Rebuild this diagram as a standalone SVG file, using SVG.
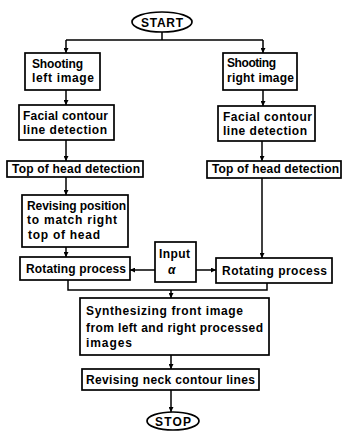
<svg xmlns="http://www.w3.org/2000/svg" width="345" height="431" viewBox="0 0 345 431">
<defs>
<marker id="ah" viewBox="0 0 8 8" refX="8" refY="4" markerWidth="5" markerHeight="5" markerUnits="userSpaceOnUse" orient="auto">
<path d="M0,0 L8,4 L0,8 Z" fill="#000"/>
</marker>
<style>
.b{fill:#fff;stroke:#000;stroke-width:1.7}
.t{font-family:"Liberation Sans",Arial,sans-serif;font-weight:bold;font-size:12px;fill:#000}
.c{fill:none;stroke:#000;stroke-width:1.5}
.a{fill:none;stroke:#000;stroke-width:1.5;marker-end:url(#ah)}
</style>
</defs>
<rect width="345" height="431" fill="#fff"/>
<g id="connectors">
<path class="c" d="M162,32 V40 M66,40 H263"/>
<path class="a" d="M66,40 V53"/>
<path class="a" d="M263,40 V53"/>
<path class="a" d="M66,90 V105"/>
<path class="a" d="M263,90 V106"/>
<path class="a" d="M66,140 V161"/>
<path class="a" d="M262,141 V161"/>
<path class="a" d="M66,177 V195"/>
<path class="a" d="M66,247 V257"/>
<path class="a" d="M262,178 V258"/>
<path class="a" d="M155,270 H130"/>
<path class="a" d="M196,270 H216"/>
<path class="c" d="M68,280 V290 H267 V283"/>
<path class="a" d="M171,290 V298"/>
<path class="a" d="M171,355 V369"/>
<path class="a" d="M171,390 V412"/>
</g>
<g id="start">
<ellipse class="b" cx="162" cy="22" rx="30" ry="10"/>
<text class="t" x="141" y="27" textLength="42" lengthAdjust="spacing">START</text>
</g>
<g id="shoot-left">
<rect class="b" x="25" y="53" width="75" height="37"/>
<text class="t" x="32" y="68" textLength="51" lengthAdjust="spacing">Shooting</text>
<text class="t" x="32" y="82" textLength="62" lengthAdjust="spacing">left image</text>
</g>
<g id="shoot-right">
<rect class="b" x="223" y="53" width="74" height="37"/>
<text class="t" x="227" y="67" textLength="49" lengthAdjust="spacing">Shooting</text>
<text class="t" x="227" y="82" textLength="67" lengthAdjust="spacing">right image</text>
</g>
<g id="facial-left">
<rect class="b" x="19" y="105" width="95" height="35"/>
<text class="t" x="23" y="120" textLength="85" lengthAdjust="spacing">Facial contour</text>
<text class="t" x="23" y="134" textLength="84" lengthAdjust="spacing">line detection</text>
</g>
<g id="facial-right">
<rect class="b" x="218" y="106" width="97" height="35"/>
<text class="t" x="223" y="121" textLength="89" lengthAdjust="spacing">Facial contour</text>
<text class="t" x="223" y="135" textLength="84" lengthAdjust="spacing">line detection</text>
</g>
<g id="tophead-left">
<rect class="b" x="7" y="161" width="136" height="16"/>
<text class="t" x="12" y="173" textLength="128" lengthAdjust="spacing">Top of head detection</text>
</g>
<g id="tophead-right">
<rect class="b" x="207" y="161" width="134" height="17"/>
<text class="t" x="212" y="173" textLength="127" lengthAdjust="spacing">Top of head detection</text>
</g>
<g id="revising">
<rect class="b" x="22" y="195" width="106" height="52"/>
<text class="t" x="27" y="210" textLength="99" lengthAdjust="spacing">Revising position</text>
<text class="t" x="27" y="224" textLength="90" lengthAdjust="spacing">to match right</text>
<text class="t" x="28" y="239" textLength="72" lengthAdjust="spacing">top of head</text>
</g>
<g id="rotating-left">
<rect class="b" x="20" y="257" width="110" height="23"/>
<text class="t" x="26" y="273" textLength="100" lengthAdjust="spacing">Rotating process</text>
</g>
<g id="input">
<rect class="b" x="155" y="242" width="41" height="40"/>
<text class="t" x="159" y="258" textLength="31" lengthAdjust="spacing">Input</text>
<text class="t" x="168" y="274" font-family="'Liberation Serif',serif" font-style="italic" font-size="14">α</text>
</g>
<g id="rotating-right">
<rect class="b" x="216" y="258" width="116" height="25"/>
<text class="t" x="222" y="275" textLength="105" lengthAdjust="spacing">Rotating process</text>
</g>
<g id="synth">
<rect class="b" x="80" y="298" width="189" height="57"/>
<text class="t" x="86" y="315" textLength="157" lengthAdjust="spacing">Synthesizing  front  image</text>
<text class="t" x="86" y="332" textLength="177" lengthAdjust="spacing">from left and right processed</text>
<text class="t" x="86" y="347" textLength="46" lengthAdjust="spacing">images</text>
</g>
<g id="neck">
<rect class="b" x="82" y="369" width="177" height="21"/>
<text class="t" x="86" y="384" textLength="169" lengthAdjust="spacing">Revising neck contour lines</text>
</g>
<g id="stop">
<ellipse class="b" cx="173" cy="421" rx="26" ry="9"/>
<text class="t" x="155" y="426" textLength="36" lengthAdjust="spacing">STOP</text>
</g>
</svg>
